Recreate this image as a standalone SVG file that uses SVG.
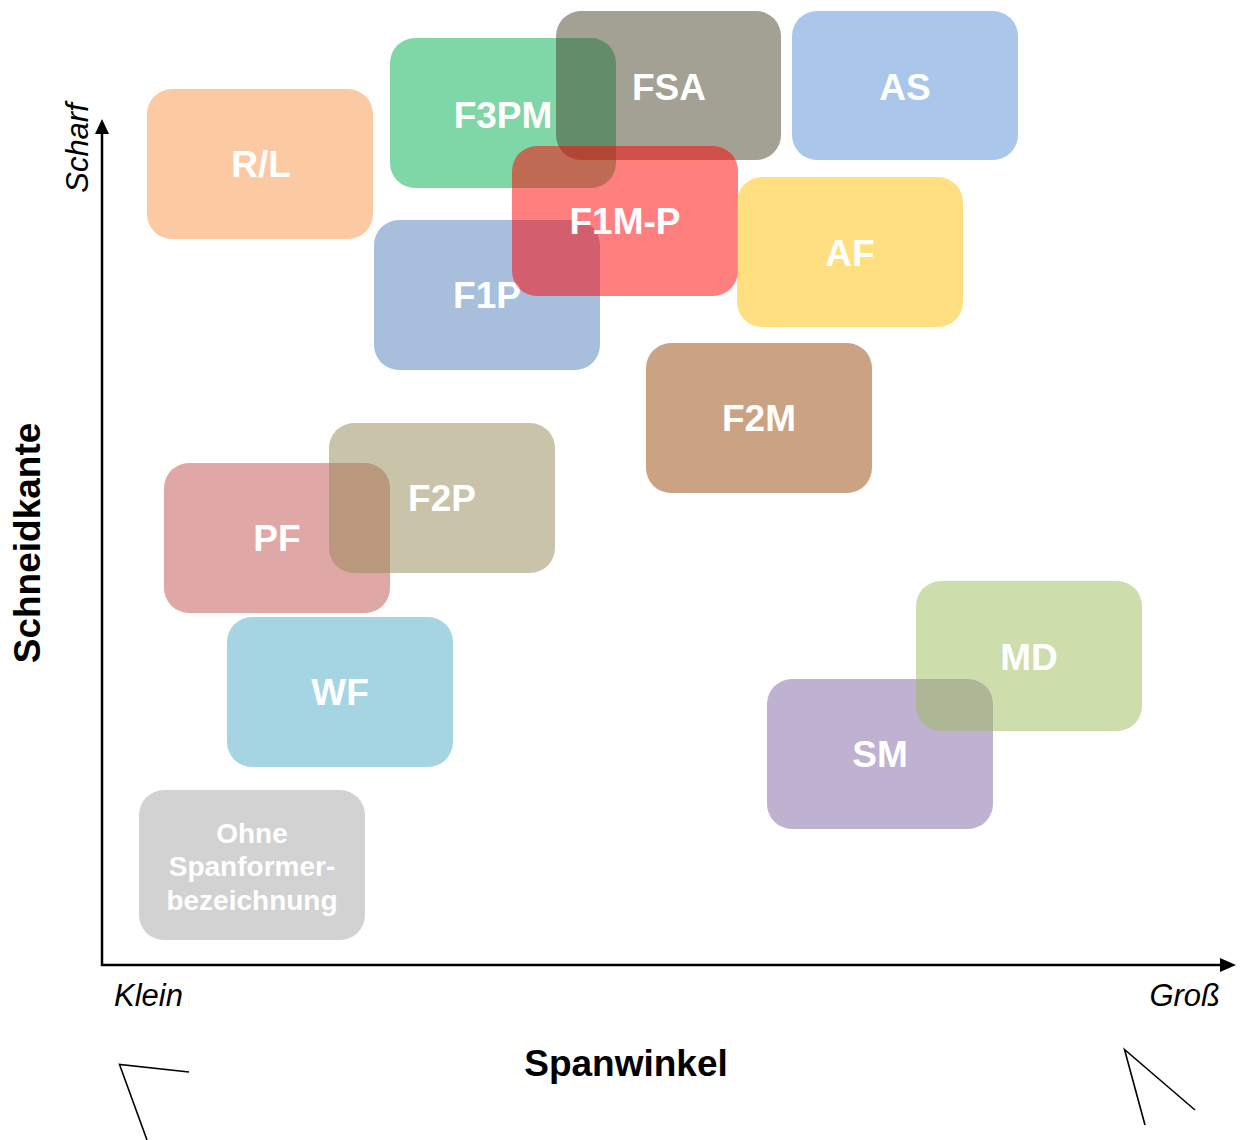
<svg xmlns="http://www.w3.org/2000/svg" width="1240" height="1140" viewBox="0 0 1240 1140">
<style>
.box{fill-opacity:0.5}
.lbl{font-family:"Liberation Sans",Arial,sans-serif;font-weight:bold;font-size:37px;fill:#ffffff;text-anchor:middle}
.small{font-size:28px}
.ax{font-family:"Liberation Sans",Arial,sans-serif;font-size:31px;font-style:italic;fill:#000}
.title{font-family:"Liberation Sans",Arial,sans-serif;font-size:37px;font-weight:bold;fill:#000;text-anchor:middle}
.sk{stroke:#000;stroke-width:1.6;fill:none}
</style>
<rect width="1240" height="1140" fill="#ffffff"/>
<g id="connectors">
<line x1="102" y1="966" x2="102" y2="132" stroke="#000" stroke-width="2.5"/>
<polygon points="102,119 95,134 109,134" fill="#000"/>
<line x1="101" y1="965" x2="1222" y2="965" stroke="#000" stroke-width="2.5"/>
<polygon points="1236,965 1220,958 1220,972" fill="#000"/>
</g>
<g id="node-RL"><rect class="box" x="147" y="89" width="226" height="150" rx="25" fill="#F79646"/><text class="lbl" x="261" y="177">R/L</text></g>
<g id="node-F3PM"><rect class="box" x="390" y="38" width="226" height="150" rx="25" fill="#00B050"/><text class="lbl" x="503" y="128">F3PM</text></g>
<g id="node-FSA"><rect class="box" x="556" y="11" width="225" height="149" rx="25" fill="#474129"/><text class="lbl" x="669" y="100">FSA</text></g>
<g id="node-AS"><rect class="box" x="792" y="11" width="226" height="149" rx="25" fill="#558ED5"/><text class="lbl" x="905" y="100">AS</text></g>
<g id="node-F1P"><rect class="box" x="374" y="220" width="226" height="150" rx="25" fill="#4F7FBB"/><text class="lbl" x="487" y="308">F1P</text></g>
<g id="node-F1MP"><rect class="box" x="512" y="146" width="226" height="150" rx="25" fill="#FF0000"/><text class="lbl" x="625" y="234">F1M-P</text></g>
<g id="node-AF"><rect class="box" x="737" y="177" width="226" height="150" rx="25" fill="#FFC000"/><text class="lbl" x="850" y="266">AF</text></g>
<g id="node-F2M"><rect class="box" x="646" y="343" width="226" height="150" rx="25" fill="#984807"/><text class="lbl" x="759" y="431">F2M</text></g>
<g id="node-PF"><rect class="box" x="164" y="463" width="226" height="150" rx="25" fill="#C0504D"/><text class="lbl" x="277" y="551">PF</text></g>
<g id="node-F2P"><rect class="box" x="329" y="423" width="226" height="150" rx="25" fill="#948A54"/><text class="lbl" x="442" y="511">F2P</text></g>
<g id="node-WF"><rect class="box" x="227" y="617" width="226" height="150" rx="25" fill="#4BACC6"/><text class="lbl" x="340" y="705">WF</text></g>
<g id="node-Ohne"><rect class="box" x="139" y="790" width="226" height="150" rx="25" fill="#A6A6A6"/><text class="lbl small" x="252" y="843">Ohne</text><text class="lbl small" x="252" y="876">Spanformer-</text><text class="lbl small" x="252" y="910">bezeichnung</text></g>
<g id="node-SM"><rect class="box" x="767" y="679" width="226" height="150" rx="25" fill="#8064A2"/><text class="lbl" x="880" y="767">SM</text></g>
<g id="node-MD"><rect class="box" x="916" y="581" width="226" height="150" rx="25" fill="#9BBB59"/><text class="lbl" x="1029" y="670">MD</text></g>
<g id="axis-labels">
<text class="ax" transform="translate(88,148) rotate(-90)" text-anchor="middle">Scharf</text>
<text class="title" transform="translate(40,543) rotate(-90)">Schneidkante</text>
<text class="ax" x="114" y="1006">Klein</text>
<text class="ax" x="1220" y="1006" text-anchor="end">Groß</text>
<text class="title" x="626" y="1076">Spanwinkel</text>
</g>
<g id="sketches">
<polyline class="sk" points="189,1072 119.5,1064.5 147,1140"/>
<polyline class="sk" points="1195,1110 1124.5,1049.5 1145,1125"/>
</g>
</svg>
